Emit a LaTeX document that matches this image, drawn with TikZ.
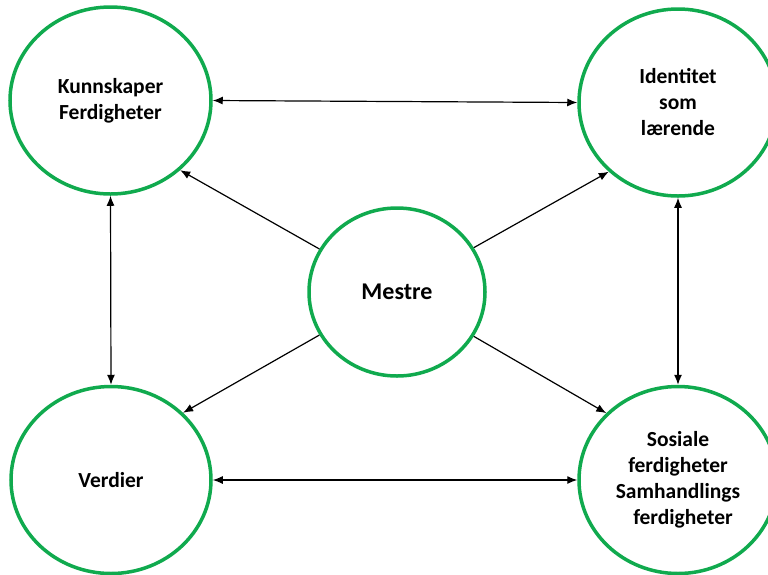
\documentclass[tikz,border=0pt]{standalone}
\usepackage{fontspec}
\setmainfont{Carlito}
\usepackage{tikz}
\usetikzlibrary{shapes,arrows.meta,positioning}
\usepackage{xcolor}
\definecolor{ringgreen}{RGB}{16,170,78}

\tikzset{
  ring/.style={ellipse,draw=ringgreen,line width=3.5pt,fill=white,align=center,
    font=\bfseries\fontsize{21.5}{26}\selectfont,inner sep=0pt},
  link/.style={line width=1.2pt,-{Latex[length=10pt,width=8pt]}},
  twoway/.style={line width=1.2pt,{Latex[length=10pt,width=8pt]}-{Latex[length=10pt,width=8pt]}}
}

\begin{document}
\begin{tikzpicture}[x=1pt,y=-1pt]
        \useasboundingbox (0,0) rectangle (768,574);

        % outer circles
        \node[ring,minimum width=201pt,minimum height=187pt] (kunn) at (110.5,100.5) {Kunnskaper\\Ferdigheter};
        \node[ring,minimum width=198pt,minimum height=187pt] (ident) at (678,102.5) {Identitet\\som\\lærende};
        \node[ring,minimum width=200pt,minimum height=187pt] (verdi) at (111,480) {Verdier};
        \node[ring,minimum width=198pt,minimum height=187pt] (sosial) at (678,480) {Sosiale\\ferdigheter\\Samhandlings\\\hspace*{10pt}ferdigheter};

        % centre
        \node[ring,minimum width=176pt,minimum height=168pt,font=\bfseries\fontsize{24}{28}\selectfont] (mestre) at (397,292) {Mestre};

        % two-way links
        \draw[twoway] (kunn.east) -- (ident.west);
        \draw[twoway] (verdi.east) -- (sosial.west);
        \draw[twoway] (kunn.south) -- (verdi.north);
        \draw[twoway] (ident.south) -- (sosial.north);

        % from the centre
        \draw[link] (mestre.151) -- (kunn.-45);
        \draw[link] (mestre.30) -- (ident.225);
        \draw[link] (mestre.209) -- (verdi.43);
        \draw[link] (mestre.-30) -- (sosial.137);
\end{tikzpicture}
\end{document}
